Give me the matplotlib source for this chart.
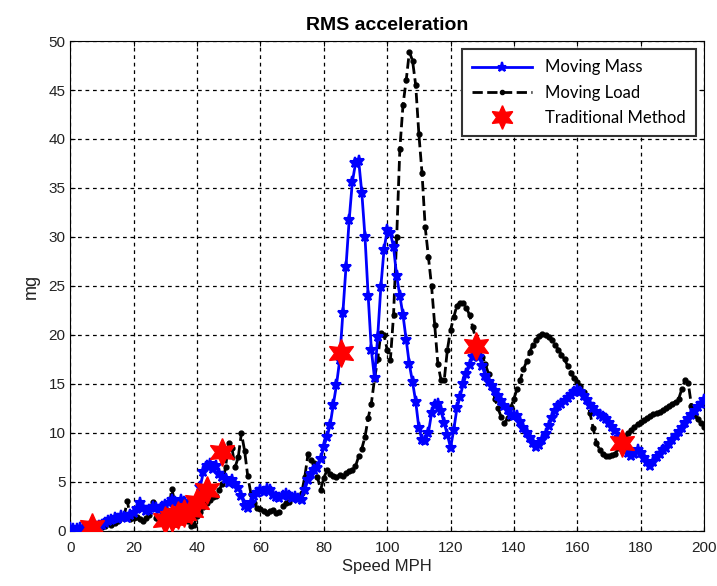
import numpy as np
import matplotlib
matplotlib.use("Agg")
import matplotlib.pyplot as plt

plt.rcParams['font.family'] = ['Liberation Sans', 'DejaVu Sans']

# speed axis, 1 MPH steps
speed = np.arange(0, 201)

# Moving Mass (blue), mg
moving_mass = [
    0.3, 0.2, 0.2, 0.3, 0.2, 0.3, 0.4, 0.3, 0.4, 0.5, 0.6,
    0.8, 1.0, 1.1, 1.3, 1.2, 1.5, 1.4, 1.3, 1.6, 1.8,
    2.2, 2.9, 2.3, 2.0, 2.1, 2.4, 2.3, 2.1, 2.4, 2.6,
    2.9, 3.2, 3.0, 2.6, 3.2, 3.0, 2.5, 2.3, 2.6, 3.2,
    4.5, 6.0, 6.6, 6.8, 6.3, 6.6, 5.8, 5.5, 5.3, 4.9,
    5.2, 4.8, 4.4, 3.6, 2.5, 2.3, 2.9, 3.6, 3.9, 4.2,
    4.0, 4.3, 4.2, 3.7, 3.5, 3.4, 3.6, 3.8, 3.6, 3.4,
    3.5, 3.3, 3.2, 4.2, 5.2, 5.8, 6.2, 6.4, 7.3, 8.6,
    9.6, 10.8, 12.9, 14.9, 17.4, 22.2, 26.9, 31.7, 35.6, 37.5,
    37.8, 34.5, 30.0, 24.0, 18.5, 15.6, 19.8, 24.9, 28.7, 30.7,
    30.4, 29.0, 26.0, 24.0, 22.0, 19.5, 17.0, 15.2, 13.2, 10.5,
    9.3, 9.2, 10.0, 12.0, 12.9, 13.0, 12.2, 11.0, 9.8, 8.5,
    10.3, 12.5, 13.7, 15.0, 16.0, 16.9, 17.8, 18.0, 17.8, 16.8,
    15.8, 15.2, 14.8, 14.3, 13.8, 13.3, 12.8, 12.3, 11.8, 11.7,
    11.7, 11.1, 10.5, 10.0, 9.5, 9.0, 8.6, 8.8, 9.3, 9.9,
    10.7, 11.5, 12.2, 12.7, 13.0, 13.3, 13.6, 13.9, 14.2, 14.4,
    14.2, 13.8, 13.4, 12.9, 12.5, 12.1, 11.8, 11.6, 11.4, 11.0,
    10.6, 10.2, 9.5, 9.0, 8.6, 8.0, 7.6, 7.8, 8.3, 8.0,
    7.4, 7.0, 6.6, 7.0, 7.5, 7.9, 8.3, 8.5, 8.9, 9.3,
    9.7, 10.1, 10.5, 11.0, 11.4, 11.8, 12.2, 12.6, 13.0, 13.4,
]

# Moving Load (black dashed), mg
moving_load = [
    0.1, 0.1, 0.1, 0.2, 0.1, 0.2, 0.2, 0.3, 0.3, 0.4, 0.4,
    0.5, 0.9, 0.6, 0.8, 1.0, 1.3, 1.5, 3.1, 1.2, 1.3,
    1.4, 1.2, 1.0, 1.3, 1.6, 3.0, 1.3, 1.1, 1.0, 1.2,
    1.8, 4.3, 3.0, 2.3, 1.8, 1.4, 1.0, 0.5, 0.6, 1.5,
    1.9, 2.4, 2.8, 3.2, 3.5, 3.6, 4.2, 4.8, 6.5, 9.0,
    8.5, 6.5, 7.5, 10.0, 8.2, 5.6, 3.8, 2.8, 2.3, 2.2,
    2.0, 1.8, 2.0, 2.1, 1.8, 1.9, 2.5, 2.8, 3.0, 3.5,
    3.6, 3.4, 3.9, 5.5, 7.8, 7.2, 6.9, 5.5, 4.2, 5.4,
    6.2, 5.8, 5.6, 5.5, 5.7, 5.6, 5.9, 6.1, 6.2, 6.6,
    7.6, 8.4, 9.6, 11.5, 13.0, 15.5, 17.5, 20.2, 20.0, 18.5,
    17.4, 22.0, 30.0, 39.0, 43.5, 46.0, 48.9, 48.0, 45.5, 40.5,
    36.5, 31.0, 28.0, 25.0, 21.0, 17.0, 15.4, 15.4, 18.5, 20.5,
    21.8, 23.0, 23.3, 23.3, 22.8, 22.0, 20.8, 19.5, 18.5, 17.8,
    17.0, 16.0, 14.9, 13.5, 12.5, 11.6, 11.0, 11.5, 12.6, 13.5,
    14.5, 15.4, 16.5, 17.3, 18.3, 19.0, 19.5, 19.9, 20.1, 20.0,
    19.8, 19.5, 19.0, 18.5, 18.0, 17.5, 16.8, 16.1, 15.6, 15.2,
    14.8, 14.2, 13.4, 12.0, 10.5, 9.0, 8.3, 7.9, 7.6, 7.6,
    7.7, 7.9, 8.5, 9.2, 9.6, 10.0, 10.3, 10.6, 10.9, 11.1,
    11.3, 11.5, 11.7, 11.9, 12.0, 12.1, 12.3, 12.5, 12.7, 13.0,
    13.2, 13.5, 14.5, 15.4, 15.1, 12.8, 11.8, 11.4, 11.0, 10.6,
]

# Traditional Method points
trad_speed = [7, 30, 32, 34, 36, 38, 40, 43, 48, 85.5, 128, 174]
trad_mg = [0.4, 1.1, 1.3, 1.6, 1.8, 2.1, 3.0, 4.2, 8.1, 18.2, 18.9, 9.0]

fig = plt.figure(figsize=(7.17, 5.86), dpi=100)
ax = fig.add_axes([0.098, 0.094, 0.884, 0.836])

ax.plot(speed, moving_mass, '-', color='blue', lw=2, marker='*',
        ms=8, mew=1.5, label='Moving Mass', zorder=3)
ax.plot(speed, moving_load, '--', color='black', lw=2, marker='.',
        ms=7, label='Moving Load', zorder=2)
ax.plot(trad_speed, trad_mg, ls='none', marker=(6, 1, 0), color='red',
        ms=20, label='Traditional Method', zorder=4)

ax.set_xlim(0, 200)
ax.set_ylim(0, 50)
ax.set_xticks(range(0, 201, 20))
ax.set_yticks(range(0, 51, 5))
ax.grid(True, color='black', linestyle=(0, (3, 3)), linewidth=0.9)
ax.tick_params(direction='in', top=True, right=True, labelsize=11,
               labelcolor='#222222')
ax.tick_params(axis='x', pad=7)
for s in ax.spines.values():
    s.set_color('black')

ax.set_title('RMS acceleration', fontsize=14, fontweight='bold', pad=8)
ax.set_xlabel('Speed MPH', fontsize=12, color='#222222', labelpad=3)
ax.set_ylabel('mg', fontsize=13, color='#222222', labelpad=6)

leg = ax.legend(loc='upper right', fontsize=12, fancybox=False,
                edgecolor='#333333', framealpha=1, borderaxespad=0.5,
                handlelength=3.6, labelspacing=0.55, borderpad=0.6,
                prop={'family': ['Lato', 'DejaVu Sans'], 'size': 12},
                markerscale=0.85)
leg.get_frame().set_linewidth(1.5)

fig.savefig('out.png', dpi=100)
